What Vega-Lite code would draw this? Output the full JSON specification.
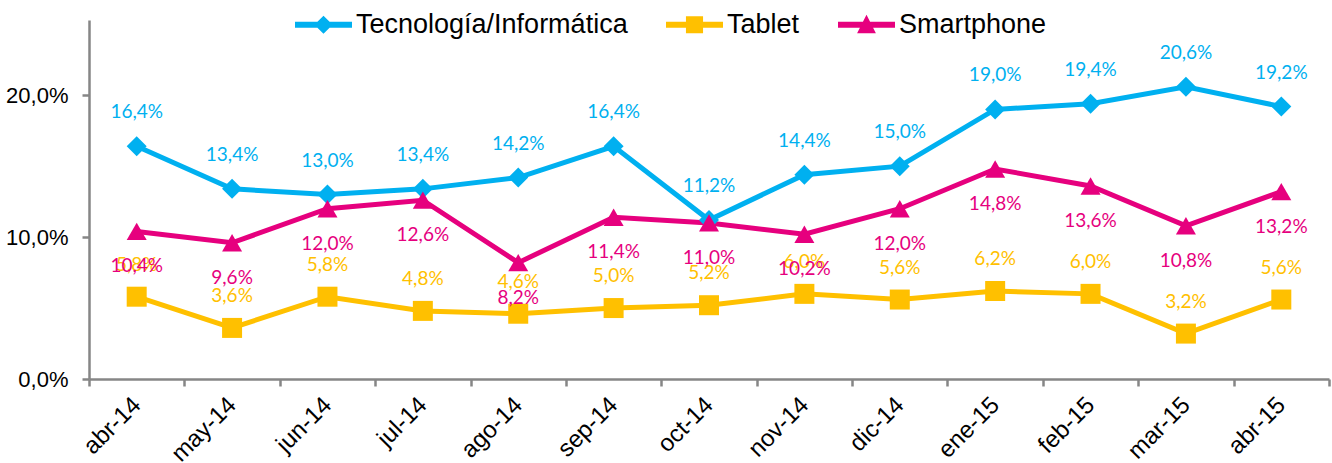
{
  "$schema": "https://vega.github.io/schema/vega-lite/v6.json",
  "width": 1240,
  "height": 359,
  "autosize": {"type": "none"},
  "padding": {"left": 89, "top": 20, "right": 3, "bottom": 84},
  "background": "white",
  "config": {
    "view": {"stroke": null},
    "locale": {"number": {"decimal": ",", "thousands": ".", "grouping": [3], "currency": ["", " €"]}},
    "font": "Liberation Sans"
  },
  "data": {
    "values": [
      {"mes": "abr-14", "serie": "Tecnología/Informática", "v": 0.164},
      {"mes": "may-14", "serie": "Tecnología/Informática", "v": 0.134},
      {"mes": "jun-14", "serie": "Tecnología/Informática", "v": 0.130},
      {"mes": "jul-14", "serie": "Tecnología/Informática", "v": 0.134},
      {"mes": "ago-14", "serie": "Tecnología/Informática", "v": 0.142},
      {"mes": "sep-14", "serie": "Tecnología/Informática", "v": 0.164},
      {"mes": "oct-14", "serie": "Tecnología/Informática", "v": 0.112},
      {"mes": "nov-14", "serie": "Tecnología/Informática", "v": 0.144},
      {"mes": "dic-14", "serie": "Tecnología/Informática", "v": 0.150},
      {"mes": "ene-15", "serie": "Tecnología/Informática", "v": 0.190},
      {"mes": "feb-15", "serie": "Tecnología/Informática", "v": 0.194},
      {"mes": "mar-15", "serie": "Tecnología/Informática", "v": 0.206},
      {"mes": "abr-15", "serie": "Tecnología/Informática", "v": 0.192},
      {"mes": "abr-14", "serie": "Tablet", "v": 0.058},
      {"mes": "may-14", "serie": "Tablet", "v": 0.036},
      {"mes": "jun-14", "serie": "Tablet", "v": 0.058},
      {"mes": "jul-14", "serie": "Tablet", "v": 0.048},
      {"mes": "ago-14", "serie": "Tablet", "v": 0.046},
      {"mes": "sep-14", "serie": "Tablet", "v": 0.050},
      {"mes": "oct-14", "serie": "Tablet", "v": 0.052},
      {"mes": "nov-14", "serie": "Tablet", "v": 0.060},
      {"mes": "dic-14", "serie": "Tablet", "v": 0.056},
      {"mes": "ene-15", "serie": "Tablet", "v": 0.062},
      {"mes": "feb-15", "serie": "Tablet", "v": 0.060},
      {"mes": "mar-15", "serie": "Tablet", "v": 0.032},
      {"mes": "abr-15", "serie": "Tablet", "v": 0.056},
      {"mes": "abr-14", "serie": "Smartphone", "v": 0.104},
      {"mes": "may-14", "serie": "Smartphone", "v": 0.096},
      {"mes": "jun-14", "serie": "Smartphone", "v": 0.120},
      {"mes": "jul-14", "serie": "Smartphone", "v": 0.126},
      {"mes": "ago-14", "serie": "Smartphone", "v": 0.082},
      {"mes": "sep-14", "serie": "Smartphone", "v": 0.114},
      {"mes": "oct-14", "serie": "Smartphone", "v": 0.110},
      {"mes": "nov-14", "serie": "Smartphone", "v": 0.102},
      {"mes": "dic-14", "serie": "Smartphone", "v": 0.120},
      {"mes": "ene-15", "serie": "Smartphone", "v": 0.148},
      {"mes": "feb-15", "serie": "Smartphone", "v": 0.136},
      {"mes": "mar-15", "serie": "Smartphone", "v": 0.108},
      {"mes": "abr-15", "serie": "Smartphone", "v": 0.132}
    ]
  },
  "encoding": {
    "x": {
      "field": "mes", "type": "nominal", "sort": null, "bandPosition": 0.5,
      "scale": {"type": "band", "paddingInner": 0, "paddingOuter": 0},
      "axis": {
        "title": null, "tickBand": "extent", "labelAngle": -45, "labelAlign": "right", "labelBaseline": "middle",
        "labelFont": "Liberation Sans", "labelFontSize": 24, "labelColor": "#000000", "labelPadding": 15,
        "domainColor": "#868686", "domainWidth": 2.5, "tickColor": "#868686", "tickWidth": 2.5, "tickSize": 7
      }
    },
    "y": {
      "field": "v", "type": "quantitative",
      "scale": {"domain": [0, 0.253], "nice": false},
      "axis": {
        "title": null, "values": [0, 0.1, 0.2], "format": ".1%", "grid": false,
        "labelFont": "Liberation Sans", "labelFontSize": 22, "labelColor": "#000000", "labelPadding": 14,
        "domainColor": "#868686", "domainWidth": 2.5, "tickColor": "#868686", "tickWidth": 2.5, "tickSize": 7
      }
    },
    "color": {
      "field": "serie", "type": "nominal",
      "scale": {"domain": ["Tecnología/Informática", "Tablet", "Smartphone"], "range": ["#00B0F0", "#FFC000", "#E6007E"]},
      "legend": {
        "title": null, "orient": "none", "legendX": 206, "legendY": -24, "direction": "horizontal", "columns": 3,
        "padding": 0, "symbolSize": 3249, "symbolStrokeWidth": 0, "labelOffset": 4, "columnPadding": 38,
        "labelFont": "Liberation Sans", "labelFontSize": 27, "labelColor": "#000000", "labelLimit": 400,
        "encode": {"symbols": {"update": {
          "fill": {"signal": "scale('color', datum.value)"},
          "fillOpacity": {"value": 1},
          "strokeWidth": {"value": 0},
          "shape": {"signal": "datum.value === 'Tablet' ? 'M-1,-0.105H1V0.105H-1Z M-0.3,-0.3H0.3V0.3H-0.3Z' : datum.value === 'Smartphone' ? 'M-1,-0.105H1V0.105H-1Z M0,-0.35L0.33,0.3H-0.33Z' : 'M-1,-0.105H1V0.105H-1Z M0,-0.32L0.32,0L0,0.32L-0.32,0Z'"}
        }}}
      }
    }
  },
  "layer": [
    {"mark": {"type": "line", "strokeWidth": 5}, "encoding": {"detail": {"field": "serie"}}},
    {
      "transform": [{"filter": "datum.serie === 'Tecnología/Informática'"}],
      "mark": {"type": "point", "filled": true, "size": 400, "opacity": 1, "shape": "diamond"}
    },
    {
      "transform": [{"filter": "datum.serie === 'Tablet'"}],
      "mark": {"type": "point", "filled": true, "size": 400, "opacity": 1, "shape": "square"}
    },
    {
      "transform": [{"filter": "datum.serie === 'Smartphone'"}],
      "mark": {"type": "point", "filled": true, "size": 400, "opacity": 1, "shape": "triangle-up"}
    },
    {
      "transform": [{"filter": "datum.serie === 'Tecnología/Informática'"}],
      "mark": {"type": "text", "dy": -34, "font": "Lato", "fontSize": 19},
      "encoding": {"text": {"field": "v", "type": "quantitative", "format": ".1%"}}
    },
    {
      "transform": [{"filter": "datum.serie === 'Tablet'"}],
      "mark": {"type": "text", "dy": -32, "font": "Lato", "fontSize": 19},
      "encoding": {"text": {"field": "v", "type": "quantitative", "format": ".1%"}}
    },
    {
      "transform": [{"filter": "datum.serie === 'Smartphone'"}],
      "mark": {"type": "text", "dy": 35, "font": "Lato", "fontSize": 19},
      "encoding": {"text": {"field": "v", "type": "quantitative", "format": ".1%"}}
    }
  ]
}
